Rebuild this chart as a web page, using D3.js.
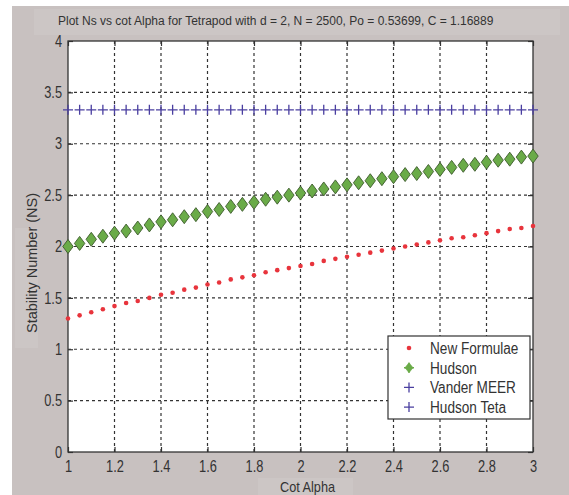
<!DOCTYPE html>
<html>
<head>
<meta charset="utf-8">
<script src="https://cdn.jsdelivr.net/npm/d3@7"></script>
<style>
  body { margin: 0; background: #fff; }
  svg text { font-family: "Liberation Sans", Arial, sans-serif; fill: #333; }
</style>
</head>
<body>
<svg id="chart" width="569" height="495"></svg>
<script>
// cot alpha values, 1 to 3 in steps of 0.05
var cotAlpha = [1.00, 1.05, 1.10, 1.15, 1.20, 1.25, 1.30, 1.35, 1.40, 1.45,
                1.50, 1.55, 1.60, 1.65, 1.70, 1.75, 1.80, 1.85, 1.90, 1.95,
                2.00, 2.05, 2.10, 2.15, 2.20, 2.25, 2.30, 2.35, 2.40, 2.45,
                2.50, 2.55, 2.60, 2.65, 2.70, 2.75, 2.80, 2.85, 2.90, 2.95, 3.00];

var newFormulae = [1.30, 1.33, 1.36, 1.39, 1.42, 1.45, 1.47, 1.50, 1.53, 1.55,
                   1.58, 1.60, 1.63, 1.65, 1.68, 1.70, 1.72, 1.75, 1.77, 1.79,
                   1.81, 1.83, 1.86, 1.88, 1.90, 1.92, 1.94, 1.96, 1.98, 2.00,
                   2.02, 2.04, 2.06, 2.08, 2.09, 2.11, 2.13, 2.15, 2.17, 2.18, 2.20];

var hudson = [2.00, 2.03, 2.07, 2.10, 2.13, 2.15, 2.18, 2.21, 2.24, 2.26,
              2.29, 2.31, 2.34, 2.36, 2.39, 2.41, 2.43, 2.46, 2.48, 2.50,
              2.52, 2.54, 2.56, 2.58, 2.60, 2.62, 2.64, 2.66, 2.68, 2.70,
              2.71, 2.73, 2.75, 2.77, 2.79, 2.80, 2.82, 2.84, 2.85, 2.87, 2.88];

var vanderMeer = [3.33, 3.33, 3.33, 3.33, 3.33, 3.33, 3.33, 3.33, 3.33, 3.33,
                  3.33, 3.33, 3.33, 3.33, 3.33, 3.33, 3.33, 3.33, 3.33, 3.33,
                  3.33, 3.33, 3.33, 3.33, 3.33, 3.33, 3.33, 3.33, 3.33, 3.33,
                  3.33, 3.33, 3.33, 3.33, 3.33, 3.33, 3.33, 3.33, 3.33, 3.33, 3.33];

var xTicks = [1, 1.2, 1.4, 1.6, 1.8, 2, 2.2, 2.4, 2.6, 2.8, 3];
var yTicks = [0, 0.5, 1, 1.5, 2, 2.5, 3, 3.5, 4];
var legendNames = ['New Formulae', 'Hudson', 'Vander MEER', 'Hudson Teta'];

var svg = d3.select('#chart');
var margin = {top: 41, right: 36, bottom: 43, left: 68};
var width = 569 - margin.left - margin.right;   // plot box
var height = 495 - margin.top - margin.bottom;

// squeeze text horizontally, the original uses a narrow font
function narrow(sel, f) {
    sel.each(function() {
        var len = this.getComputedTextLength();
        d3.select(this).attr('textLength', len * f).attr('lengthAdjust', 'spacingAndGlyphs');
    });
}

// gray figure background + lighter label bands
svg.append('rect').attr('x', 12).attr('y', 6).attr('width', 557).attr('height', 489).attr('fill', '#c8c1c0');
svg.append('rect').attr('x', 34).attr('y', 9).attr('width', 526).attr('height', 26).attr('fill', '#ccc6c5');
svg.append('rect').attr('x', 15).attr('y', 228).attr('width', 23).attr('height', 120).attr('fill', '#ccc6c5');
svg.append('rect').attr('x', 258).attr('y', 478).attr('width', 95).attr('height', 17).attr('fill', '#ccc6c5');

var x = d3.scaleLinear().domain([1, 3]).range([0, width]);
var y = d3.scaleLinear().domain([0, 4]).range([height, 0]);

var g = svg.append('g').attr('transform', 'translate(' + margin.left + ',' + margin.top + ')');

g.append('rect').attr('width', width).attr('height', height).attr('fill', '#fff');

// dotted grid
g.selectAll('.vgrid').data(xTicks.slice(1, -1)).enter().append('line')
    .attr('x1', function(d) { return x(d); }).attr('x2', function(d) { return x(d); })
    .attr('y1', 0).attr('y2', height)
    .attr('stroke', '#333').attr('stroke-width', 1.2).attr('stroke-dasharray', '3,3');
g.selectAll('.hgrid').data(yTicks.slice(1, -1)).enter().append('line')
    .attr('y1', function(d) { return y(d); }).attr('y2', function(d) { return y(d); })
    .attr('x1', 0).attr('x2', width)
    .attr('stroke', '#333').attr('stroke-width', 1.2).attr('stroke-dasharray', '3,3');

// axes, matlab style inward ticks
function styleAxis(sel) {
    sel.select('.domain').remove();
    sel.selectAll('line').attr('stroke', '#333').attr('stroke-width', 1.2);
    sel.selectAll('text').style('font-size', '16px').attr('fill', '#333').call(narrow, 0.8);
}
g.append('g').attr('transform', 'translate(0,' + height + ')')
    .call(d3.axisBottom(x).tickValues(xTicks).tickSize(-5).tickPadding(9).tickFormat(d3.format('')))
    .call(styleAxis);
g.append('g')
    .call(d3.axisTop(x).tickValues(xTicks).tickSize(-5).tickFormat(''))
    .call(styleAxis);
g.append('g')
    .call(d3.axisLeft(y).tickValues(yTicks).tickSize(-5).tickPadding(6).tickFormat(d3.format('')))
    .call(styleAxis);
g.append('g').attr('transform', 'translate(' + width + ',0)')
    .call(d3.axisRight(y).tickValues(yTicks).tickSize(-5).tickFormat(''))
    .call(styleAxis);

g.append('rect').attr('width', width).attr('height', height)
    .attr('fill', 'none').attr('stroke', '#333').attr('stroke-width', 1.3);

// series
var plusPath = 'M-5,0H5M0,-5V5';
var diamondPath = 'M0,-7L5.2,0L0,7L-5.2,0Z';

g.selectAll('.vm').data(vanderMeer).enter().append('path')
    .attr('d', plusPath)
    .attr('transform', function(d, i) { return 'translate(' + x(cotAlpha[i]) + ',' + y(d) + ')'; })
    .attr('stroke', '#4a3fa0').attr('stroke-width', 1.3).attr('fill', 'none');

g.selectAll('.hud').data(hudson).enter().append('path')
    .attr('d', diamondPath)
    .attr('transform', function(d, i) { return 'translate(' + x(cotAlpha[i]) + ',' + y(d) + ')'; })
    .attr('fill', '#6aab48').attr('stroke', '#3d5a2c').attr('stroke-width', 0.9);

g.selectAll('.nf').data(newFormulae).enter().append('circle')
    .attr('cx', function(d, i) { return x(cotAlpha[i]); })
    .attr('cy', function(d) { return y(d); })
    .attr('r', 2.3)
    .attr('fill', '#e8343c');

// legend
var legend = svg.append('g').attr('transform', 'translate(388,336)');
legend.append('rect').attr('width', 142).attr('height', 83)
    .attr('fill', '#fff').attr('stroke', '#333').attr('stroke-width', 1.2);
legendNames.forEach(function(name, i) {
    var ly = 12 + i * 19.7;
    var item = legend.append('g').attr('transform', 'translate(21,' + ly + ')');
    if (i === 0) {
        item.append('circle').attr('r', 2.3).attr('fill', '#e8343c');
    } else if (i === 1) {
        item.append('path').attr('d', 'M0,-5L4,0L0,5L-4,0Z').attr('fill', '#6aab48').attr('stroke', '#6aab48').attr('stroke-width', 0.6);
        item.append('path').attr('d', 'M-5,0H5M0,-5V5').attr('stroke', '#6aab48').attr('stroke-width', 1.5);
    } else {
        item.append('path').attr('d', plusPath).attr('stroke', '#4a3fa0').attr('stroke-width', 1.3);
    }
    item.append('text').attr('x', 21).attr('y', 6).style('font-size', '16px').text(name).call(narrow, 0.85);
});

// title (plain text, smaller size to match the narrow original width)
svg.append('text').attr('x', 58).attr('y', 25)
    .style('font-size', '12px')
    .text('Plot Ns vs cot Alpha for Tetrapod with d = 2, N = 2500, Po = 0.53699, C = 1.16889');
svg.append('text').attr('x', 280).attr('y', 492)
    .style('font-size', '15px')
    .attr('textLength', 55).attr('lengthAdjust', 'spacingAndGlyphs')
    .text('Cot Alpha');
svg.append('text').attr('transform', 'translate(37,333) rotate(-90)')
    .style('font-size', '15px')
    .attr('textLength', 140).attr('lengthAdjust', 'spacingAndGlyphs')
    .text('Stability Number (NS)');
</script>
</body>
</html>
